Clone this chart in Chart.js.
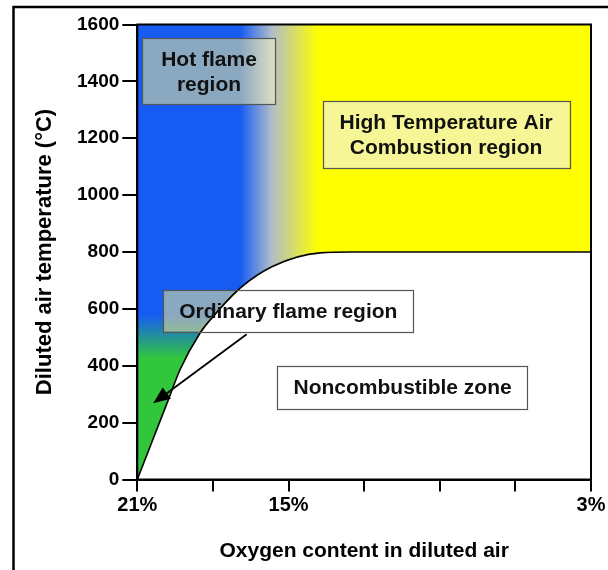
<!DOCTYPE html>
<html>
<head>
<meta charset="utf-8">
<script src="https://cdn.jsdelivr.net/npm/chart.js@4.4.1/dist/chart.umd.min.js"></script>
<style>
  html, body { margin: 0; padding: 0; background: #fff; }
  #wrap { width: 608px; height: 570px; position: relative; }
</style>
</head>
<body>
<div id="wrap"><canvas id="c" width="608" height="570"></canvas></div>
<script>
// ---- data ----
const oxygenContent   = [21, 19.77, 19.31, 18.51, 18.11, 16.92, 15.62, 13.75, 12.5, 3];   // % O2
const airTemperature  = [0, 280, 385, 515, 561, 673, 750, 797, 800, 800];                 // °C boundary
const xTickValues     = [21, 18, 15, 12, 9, 6, 3];
const xTickLabels     = ['21%', '', '15%', '', '', '', '3%'];
const yTickValues     = [0, 200, 400, 600, 800, 1000, 1200, 1400, 1600];
const regionLabels    = [['Hot flame', 'region'], ['High Temperature Air', 'Combustion region'], ['Ordinary flame region'], ['Noncombustible zone']];
const xAxisTitle      = 'Oxygen content in diluted air';
const yAxisTitle      = 'Diluted air temperature (°C)';

// ---- annotation layout (data units) ----
const regionBoxes = [
  { x0: 20.80, x1: 15.51, y0: 1551, y1: 1319, style: 'hatch' },
  { x0: 13.64, x1: 3.86,  y0: 1331, y1: 1094, style: 'yellow' },
  { x0: 19.97, x1: 10.05, y0: 666,  y1: 520,  style: 'hatch' },
  { x0: 15.44, x1: 5.51,  y0: 400,  y1: 250,  style: 'white' }
];
const arrowFrom = { x: 16.66, y: 511 };
const arrowTo   = { x: 20.37, y: 268 };

// colours / gradient stops (data units)
const BLUE = [22, 92, 243], MID = [178, 190, 200], YELLOW = [255, 255, 0], GREEN = [50, 198, 60];
const blueEndX = 16.92, midX = 15.65, yellowStartX = 13.8;
const greenFadeTop = 580, greenFull = 425;

const FONT = '"Liberation Sans", Arial, Helvetica, sans-serif';
const rgb = (c, a = 1) => `rgba(${c[0]},${c[1]},${c[2]},${a})`;

function bgGradient(ctx) {
  const chart = ctx.chart, area = chart.chartArea;
  if (!area) return rgb(BLUE);
  const sx = chart.scales.x;
  const l = area.left, r = area.right, w = r - l;
  const g = chart.ctx.createLinearGradient(l, 0, r, 0);
  const off = v => Math.min(1, Math.max(0, (sx.getPixelForValue(v) - l) / w));
  g.addColorStop(0, rgb(BLUE));
  g.addColorStop(off(blueEndX), rgb(BLUE));
  g.addColorStop(off(midX), rgb(MID));
  g.addColorStop(off(yellowStartX), rgb(YELLOW));
  g.addColorStop(1, rgb(YELLOW));
  return g;
}
function greenGradient(ctx) {
  const chart = ctx.chart, area = chart.chartArea;
  if (!area) return rgb(GREEN, 0);
  const sy = chart.scales.y;
  const y0 = sy.getPixelForValue(greenFadeTop), y1 = sy.getPixelForValue(greenFull);
  const g = chart.ctx.createLinearGradient(0, y0, 0, y1);
  g.addColorStop(0, rgb(GREEN, 0));
  g.addColorStop(1, rgb(GREEN, 1));
  return g;
}

const boundaryPoints = oxygenContent.map((x, i) => ({ x, y: airTemperature[i] }));
const yMax = yTickValues[yTickValues.length - 1];

const overlay = {
  id: 'overlay',
  beforeDraw(chart) {
    const c = chart.ctx;
    c.save();
    c.strokeStyle = '#000';
    c.lineWidth = 2.5;
    c.beginPath();
    c.moveTo(13.5, 570); c.lineTo(13.5, 7); c.lineTo(608, 7);
    c.stroke();
    c.restore();
  },
  afterDatasetsDraw(chart) {
    const c = chart.ctx, sx = chart.scales.x, sy = chart.scales.y, a = chart.chartArea;
    c.save();

    // arrow
    const fx = sx.getPixelForValue(arrowFrom.x), fy = sy.getPixelForValue(arrowFrom.y);
    const tx = sx.getPixelForValue(arrowTo.x), ty = sy.getPixelForValue(arrowTo.y);
    const ang = Math.atan2(ty - fy, tx - fx);
    const hl = 17, hw = 7;
    const bx = tx - hl * Math.cos(ang), by = ty - hl * Math.sin(ang);
    c.strokeStyle = '#000'; c.lineWidth = 1.8;
    c.beginPath(); c.moveTo(fx, fy); c.lineTo(bx, by); c.stroke();
    c.fillStyle = '#000';
    c.beginPath();
    c.moveTo(tx, ty);
    c.lineTo(bx + hw * Math.sin(ang), by - hw * Math.cos(ang));
    c.lineTo(bx - hw * Math.sin(ang), by + hw * Math.cos(ang));
    c.closePath(); c.fill();

    const curve = chart.getDatasetMeta(0).dataset;

    // region boxes
    regionBoxes.forEach((b, i) => {
      const x0 = sx.getPixelForValue(b.x0), x1 = sx.getPixelForValue(b.x1);
      const y0 = sy.getPixelForValue(b.y0), y1 = sy.getPixelForValue(b.y1);
      const L = Math.min(x0, x1), T = Math.min(y0, y1), W = Math.abs(x1 - x0), H = Math.abs(y1 - y0);
      if (b.style === 'hatch') {
        // semi-transparent grey hatch: desaturate then lighten (white stays white)
        c.globalCompositeOperation = 'saturation';
        c.fillStyle = 'rgba(128,128,128,0.32)';
        c.fillRect(L, T, W, H);
        c.globalCompositeOperation = 'screen';
        c.fillStyle = 'rgb(116,119,0)';
        c.fillRect(L, T, W, H);
        c.globalCompositeOperation = 'source-over';
        // boundary line shows through the transparent box
        c.save();
        c.beginPath(); c.rect(L, T, W, H); c.clip();
        if (curve) curve.draw(c, a);
        c.restore();
      } else if (b.style === 'yellow') {
        c.fillStyle = 'rgb(246,246,150)';
        c.fillRect(L, T, W, H);
      } else {
        c.fillStyle = '#fff';
        c.fillRect(L, T, W, H);
      }
      c.strokeStyle = '#555';
      c.lineWidth = 1.2;
      c.strokeRect(Math.round(L) + 0.5, Math.round(T) + 0.5, Math.round(W), Math.round(H));
      const lines = regionLabels[i];
      c.fillStyle = '#111';
      c.font = 'bold 21px ' + FONT;
      c.textAlign = 'center';
      c.textBaseline = 'middle';
      const lh = 25;
      const cx = L + W / 2, cy = T + H / 2;
      lines.forEach((t, k) => c.fillText(t, cx, cy + (k - (lines.length - 1) / 2) * lh + 1));
    });

    // plot frame
    c.strokeStyle = '#000';
    c.lineWidth = 2;
    c.strokeRect(a.left, a.top, a.right - a.left, a.bottom - a.top);
    c.restore();
  }
};

new Chart(document.getElementById('c'), {
  type: 'line',
  data: {
    datasets: [
      { // boundary curve; everything below it is the noncombustible zone
        data: boundaryPoints,
        borderColor: '#000', borderWidth: 1.6,
        backgroundColor: '#fff', fill: 'origin',
        pointRadius: 0, cubicInterpolationMode: 'monotone', order: 1
      },
      { // green tint of the ordinary flame region
        data: [{ x: xTickValues[0], y: greenFadeTop }, { x: blueEndX, y: greenFadeTop }],
        borderWidth: 0, pointRadius: 0, backgroundColor: greenGradient, fill: 'origin', order: 2
      },
      { // combustion regions background
        data: [{ x: xTickValues[0], y: yMax }, { x: xTickValues[xTickValues.length - 1], y: yMax }],
        borderWidth: 0, pointRadius: 0, backgroundColor: bgGradient, fill: 'origin', order: 3
      }
    ]
  },
  options: {
    responsive: false,
    animation: false,
    events: [],
    layout: { autoPadding: false, padding: { left: 0, right: 17, top: 24.5, bottom: 0 } },
    plugins: { legend: { display: false }, tooltip: { enabled: false } },
    scales: {
      x: {
        type: 'linear', min: 3, max: 21, reverse: true,
        afterBuildTicks: s => { s.ticks = xTickValues.map(v => ({ value: v })); },
        afterFit: s => { s.height = 90.5; },
        ticks: {
          autoSkip: false, maxRotation: 0, padding: 2, color: '#000',
          font: { family: FONT, size: 20, weight: 'bold' },
          callback: v => xTickLabels[xTickValues.indexOf(v)] ?? ''
        },
        grid: { drawOnChartArea: false, drawTicks: true, tickLength: 12, color: '#000', lineWidth: 2 },
        border: { display: true, color: '#000', width: 2 },
        title: { display: true, text: xAxisTitle, color: '#000',
                 font: { family: FONT, size: 21, weight: 'bold', lineHeight: 1.2 },
                 padding: { top: 0, bottom: 5.7 } }
      },
      y: {
        type: 'linear', min: 0, max: yMax,
        afterBuildTicks: s => { s.ticks = yTickValues.map(v => ({ value: v })); },
        afterFit: s => { s.width = 137.3; },
        ticks: { padding: 3, color: '#000', font: { family: FONT, size: 19, weight: 'bold' },
                 callback: v => String(v) },
        grid: { drawOnChartArea: false, drawTicks: true, tickLength: 15, color: '#000', lineWidth: 2 },
        border: { display: true, color: '#000', width: 2 },
        title: { display: true, text: yAxisTitle, color: '#000',
                 font: { family: FONT, size: 22, weight: 'bold', lineHeight: 1.2 },
                 padding: { top: 31.8, bottom: 0 } }
      }
    }
  },
  plugins: [overlay]
});
</script>
</body>
</html>
